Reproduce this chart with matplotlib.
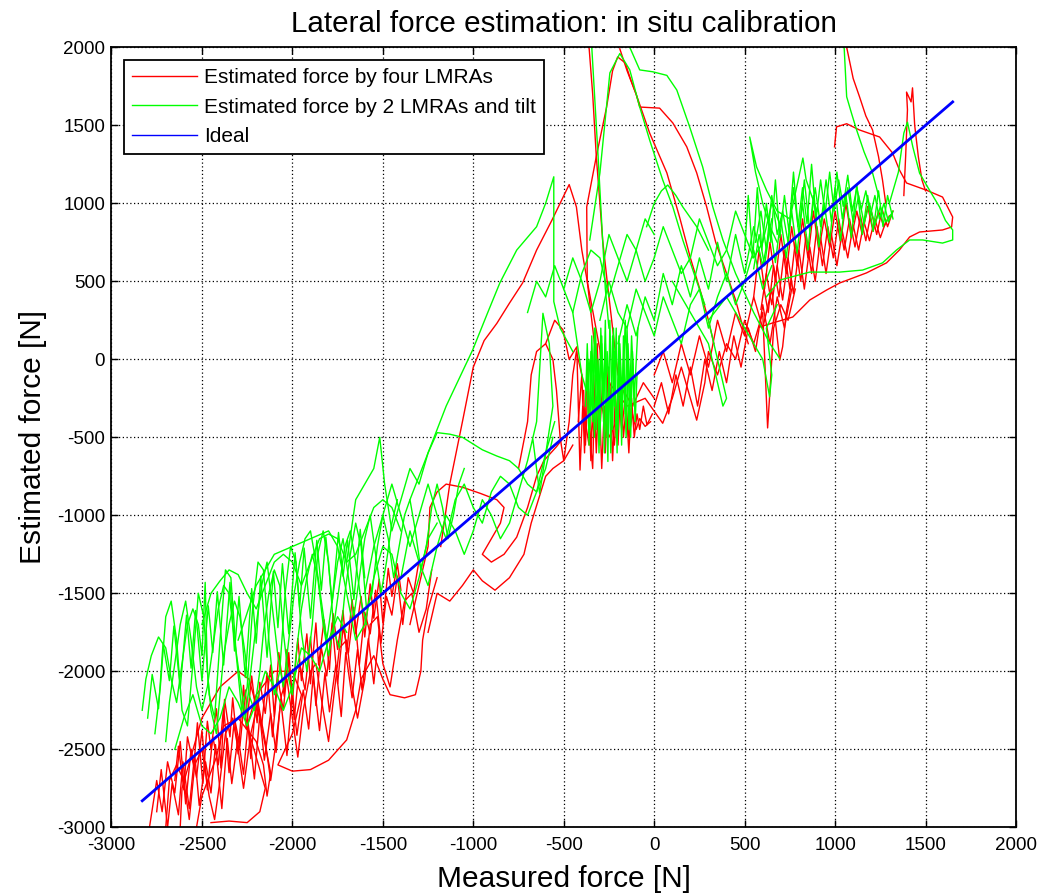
import matplotlib
matplotlib.use("Agg")
import matplotlib.pyplot as plt

plt.rcParams['font.family'] = ['Liberation Sans', 'DejaVu Sans']
plt.rcParams['axes.unicode_minus'] = False

# --- ideal line (measured = estimated) ---
ideal_x = [-2830, 1650]
ideal_y = [-2830, 1650]

# --- estimated force by four LMRAs (red), traced by hand ---
red_band1 = [(-2790, -3000), (-2750, -2700), (-2720, -2900), (-2690, -2580), (-2650, -2780), (-2620, -2450),
             (-2590, -2850), (-2560, -2500), (-2530, -2680), (-2500, -2380), (-2470, -2760), (-2440, -2420),
             (-2410, -2600), (-2380, -2230), (-2350, -2650), (-2320, -2300), (-2290, -2480), (-2260, -2120),
             (-2230, -2560), (-2200, -2180), (-2170, -2350), (-2140, -2010), (-2110, -2420), (-2080, -2050),
             (-2050, -2250), (-2020, -1880), (-1990, -2310), (-1960, -1950), (-1930, -2120), (-1900, -1780),
             (-1870, -2220), (-1840, -1850), (-1810, -2030), (-1780, -1690), (-1750, -2080), (-1720, -1720),
             (-1690, -1880), (-1660, -1590), (-1630, -1960), (-1600, -1620), (-1570, -1760), (-1540, -1480),
             (-1510, -1820), (-1480, -1520), (-1450, -1640), (-1420, -1390), (-1390, -1700), (-1360, -1400),
             (-1330, -1500), (-1300, -1290)]
red_band2 = [(-2700, -3000), (-2680, -2700), (-2640, -2600), (-2600, -2700), (-2570, -2950), (-2540, -2600),
             (-2500, -2500), (-2460, -2800), (-2430, -2950), (-2400, -2700), (-2370, -2400), (-2330, -2300),
             (-2300, -2500), (-2270, -2750), (-2230, -2400), (-2190, -2200), (-2150, -2450), (-2120, -2700),
             (-2090, -2450), (-2060, -2150), (-2030, -2050), (-2000, -2300), (-1970, -2550), (-1940, -2250),
             (-1900, -2000), (-1870, -1950), (-1830, -2250), (-1800, -2450), (-1770, -2150), (-1740, -1850),
             (-1700, -1800), (-1670, -2100), (-1640, -2300), (-1600, -2050), (-1570, -1700), (-1530, -1650),
             (-1500, -1950), (-1460, -2100), (-1420, -1800), (-1380, -1550), (-1340, -1500), (-1300, -1750),
             (-1260, -1600), (-1230, -1350)]
red_band3 = [(-2650, -2700), (-2630, -2480), (-2600, -2760), (-2580, -2420), (-2545, -2610), (-2525, -2330),
             (-2495, -2720), (-2470, -2320), (-2450, -2500), (-2420, -2240), (-2395, -2620), (-2375, -2180),
             (-2345, -2420), (-2330, -2170), (-2300, -2530), (-2270, -2090), (-2255, -2370), (-2225, -2030),
             (-2195, -2330), (-2180, -2070), (-2150, -2270), (-2120, -1960), (-2100, -2290), (-2075, -1880),
             (-2045, -2160), (-2030, -1860), (-2000, -2190), (-1970, -1790), (-1950, -2060), (-1920, -1760),
             (-1900, -2080), (-1870, -1690), (-1855, -1960), (-1825, -1670), (-1795, -1990), (-1775, -1630),
             (-1750, -1860), (-1720, -1610), (-1700, -1890), (-1670, -1540), (-1650, -1760), (-1620, -1520),
             (-1600, -1780), (-1570, -1440), (-1550, -1660), (-1520, -1410), (-1500, -1690), (-1470, -1340),
             (-1450, -1520), (-1420, -1310), (-1400, -1480)]
red_band4 = [(-2750, -2900), (-2725, -2630), (-2690, -3000), (-2665, -2720), (-2630, -2920), (-2605, -2580),
             (-2570, -2880), (-2540, -2530), (-2515, -2860), (-2480, -2580), (-2450, -2780), (-2425, -2470),
             (-2390, -2880), (-2360, -2430), (-2335, -2720), (-2300, -2420), (-2270, -2660), (-2245, -2330),
             (-2210, -2690), (-2180, -2280), (-2155, -2570), (-2120, -2270), (-2090, -2520), (-2065, -2180),
             (-2030, -2540), (-2000, -2130), (-1975, -2410), (-1940, -2120), (-1910, -2370), (-1885, -2030),
             (-1850, -2380), (-1820, -2010), (-1795, -2260), (-1760, -1960), (-1730, -2290), (-1705, -1880),
             (-1670, -2170), (-1640, -1860), (-1615, -2120), (-1580, -1790), (-1550, -2080), (-1520, -1740)]
red_loops_low = [(-2450, -2970), (-2350, -2960), (-2250, -2970), (-2180, -2900), (-2150, -2750), (-2200, -2550),
                 (-2250, -2350), (-2200, -2150), (-2100, -2000), (-2000, -2000), (-1950, -2150), (-2000, -2400),
                 (-2080, -2600), (-2000, -2640), (-1900, -2630), (-1800, -2570), (-1700, -2440), (-1650, -2250),
                 (-1620, -2050), (-1550, -1900), (-1500, -2050), (-1460, -2150), (-1380, -2170), (-1320, -2150),
                 (-1290, -2000), (-1280, -1800), (-1250, -1600), (-1200, -1400)]
red_strokes_low = [(-2530, -3000), (-2500, -2800), (-2420, -2550), (-2380, -2350), (-2300, -2300), (-2200, -2450),
                   (-2160, -2600), (-2140, -2800), (-2120, -2650), (-2180, -2300), (-2240, -2050), (-2300, -2000),
                   (-2400, -2100), (-2500, -2300), (-2610, -2750), (-2620, -3000)]
red_mid_a = [(-1350, -1700), (-1300, -1450), (-1250, -1200), (-1240, -950), (-1200, -850), (-1150, -800),
             (-1060, -820), (-960, -860), (-870, -900), (-830, -950), (-850, -1050), (-900, -1150), (-950, -1250),
             (-900, -1300), (-830, -1250), (-760, -1140), (-700, -950), (-650, -750), (-610, -650), (-540, -560),
             (-500, -500)]
red_mid_b = [(-1250, -1750), (-1200, -1500), (-1130, -1550), (-1060, -1450), (-1000, -1350), (-950, -1420),
             (-880, -1480), (-800, -1400), (-720, -1250), (-680, -1050), (-640, -900), (-600, -750), (-560, -700),
             (-500, -650), (-450, -550)]
red_mid_c = [(-750, -700), (-700, -400), (-680, -100), (-650, 50), (-600, 100), (-560, 0), (-540, -200),
             (-520, -500), (-500, -650), (-470, -400), (-450, -100), (-430, 50), (-400, -100)]
red_rise = [(-1180, -1200), (-1130, -800), (-1060, -400), (-1000, -50), (-940, 120), (-870, 230), (-800, 360),
            (-727, 490), (-650, 700), (-566, 890), (-520, 1000), (-470, 1120), (-430, 977), (-400, 700),
            (-370, 500), (-330, 250), (-300, 60), (-280, -200)]
red_peak = [(-330, 100), (-370, 500), (-373, 977), (-320, 1300), (-263, 1617), (-230, 1850), (-202, 1938),
            (-160, 1900), (-135, 1810), (-100, 1700), (-80, 1617), (30, 1610), (103, 1515), (180, 1362),
            (235, 1195), (290, 977), (340, 750), (400, 550), (450, 380), (480, 250), (520, 100)]
red_peak2 = [(-190, 1990), (-150, 1850), (-100, 1700), (-25, 1450), (70, 1195), (140, 913), (200, 650),
             (260, 420), (300, 250), (330, 100)]
red_steep = [(-360, 2000), (-340, 1700), (-320, 1300), (-300, 1000), (-285, 765), (-260, 500), (-240, 300),
             (-220, 100), (-200, -100)]
red_center = [(-420, -400), (-400, -100), (-385, -600), (-370, 0), (-355, -500), (-340, -700), (-330, -250),
              (-315, 100), (-300, -450), (-285, -150), (-270, -600), (-255, -50), (-240, -350), (-220, -550),
              (-200, -200), (-180, -450), (-160, -250), (-140, -500), (-120, -350), (-100, -450), (-80, -380),
              (-50, -430), (-20, -400)]
red_center2 = [(-600, 100), (-550, 250), (-505, 190), (-470, 0), (-428, 80), (-410, -710), (-395, -300),
               (-360, -550), (-330, -350), (-290, -300), (-250, -500), (-210, -400), (-170, -200), (-120, -300),
               (-60, -150), (0, -250)]
red_center3 = [(-390, -200), (-380, -550), (-365, -150), (-350, -650), (-335, -100), (-320, -600), (-305, -200),
               (-290, -700), (-275, -300), (-260, -500), (-245, -150), (-230, -650), (-215, -250), (-200, -550),
               (-185, -150), (-170, -500), (-155, -300), (-140, -600), (-125, -250), (-110, -500), (-95, -350),
               (-80, -450), (-60, -300), (-40, -420), (-10, -350)]
red_below = [(-250, -150), (-150, -300), (-50, -250), (47, -410), (100, -250), (150, -50), (200, -250),
             (235, -390), (280, -150), (300, 50), (350, -100), (400, 100), (450, 0), (500, 250), (550, 100),
             (600, 300), (627, -440), (640, -200), (660, 200), (700, 350), (740, 250), (780, 450)]
red_below2 = [(0, -100), (50, 50), (100, -150), (150, 100), (200, -100), (250, 150), (300, -50), (350, 250),
              (400, 50), (450, 300), (500, 150), (550, 400), (600, 200), (650, 450), (694, -5), (710, 80),
              (730, 300), (760, 500)]
red_below3 = [(0, -300), (40, -150), (80, -350), (120, -100), (160, -300), (200, -50), (240, -300), (280, 0),
              (320, -200), (360, 50), (400, -150), (440, 150), (480, -50), (520, 200), (560, 50), (600, 350),
              (640, 100), (680, 400), (720, 200), (760, 450)]
red_ur1 = [(550, 400), (580, 700), (610, 450), (640, 750), (670, 500), (700, 800), (730, 550), (760, 850),
           (790, 600), (820, 900), (850, 650), (880, 950), (910, 700), (940, 900), (970, 720), (1000, 950),
           (1030, 750), (1060, 1000), (1090, 780), (1120, 950), (1150, 800), (1180, 980), (1210, 820),
           (1240, 950), (1270, 850), (1300, 920)]
red_ur2 = [(1280, 880), (1250, 780), (1220, 900), (1190, 760), (1160, 880), (1130, 700), (1100, 860), (1070, 650),
           (1040, 820), (1010, 600), (980, 800), (950, 550), (920, 780), (890, 500), (860, 720), (830, 450),
           (800, 700), (770, 420), (740, 650), (710, 380), (680, 600), (650, 350), (620, 550), (590, 320)]
red_ur3 = [(600, 500), (630, 300), (660, 600), (690, 400), (720, 700), (750, 450), (780, 750), (810, 500),
           (840, 800), (870, 550), (900, 850), (930, 600), (960, 850), (990, 650), (1020, 900), (1050, 700),
           (1080, 900), (1110, 720), (1140, 920), (1170, 760), (1200, 950), (1230, 800), (1260, 960), (1290, 850),
           (1320, 950)]
red_right_loop = [(997, 1362), (1008, 1490), (1064, 1510), (1135, 1470), (1246, 1425), (1318, 1322), (1356, 1213),
                  (1395, 1130), (1505, 1084), (1594, 1040), (1650, 912), (1644, 848), (1594, 829), (1467, 816),
                  (1412, 784), (1356, 701), (1284, 618), (1174, 554), (1025, 489), (953, 444), (860, 380),
                  (766, 271), (655, 233), (583, 207)]
red_top_right = [(1064, 2000), (1100, 1800), (1135, 1683), (1170, 1560), (1207, 1470), (1240, 1300), (1262, 1150),
                 (1280, 1000)]
red_spikes_right = [(1380, 1050), (1390, 1300), (1400, 1600), (1395, 1713), (1420, 1650), (1428, 1740),
                    (1440, 1500), (1460, 1300), (1480, 1150), (1500, 1080)]

# --- estimated force by 2 LMRAs and tilt (green), traced by hand ---
green_left1 = [(-2830, -2250), (-2810, -2050), (-2780, -1900), (-2740, -1780), (-2700, -1850), (-2670, -2050),
               (-2640, -2200), (-2610, -1950), (-2580, -1700), (-2550, -1600), (-2520, -1700), (-2500, -1900),
               (-2482, -1430), (-2470, -2000), (-2450, -2250), (-2420, -2400), (-2400, -2150), (-2380, -1900),
               (-2350, -1700), (-2320, -1550), (-2290, -1650), (-2260, -1900), (-2240, -2150), (-2210, -2250),
               (-2180, -2000), (-2160, -1750), (-2130, -1500), (-2100, -1350), (-2070, -1450), (-2050, -1750),
               (-2020, -2050), (-2000, -2150), (-1980, -1900), (-1950, -1600), (-1920, -1400), (-1890, -1250),
               (-1860, -1400), (-1830, -1700), (-1800, -1900), (-1770, -1700), (-1740, -1450), (-1710, -1200),
               (-1680, -1100), (-1650, -1300), (-1620, -1550), (-1590, -1700)]
green_left2 = [(-2700, -2450), (-2680, -2200), (-2650, -1950), (-2620, -1700), (-2590, -1550), (-2560, -1800),
               (-2530, -2100), (-2500, -2250), (-2470, -2100), (-2440, -1850), (-2410, -1600), (-2380, -1450),
               (-2350, -1500), (-2320, -1800), (-2290, -2050), (-2260, -2300), (-2230, -2000), (-2200, -1700),
               (-2170, -1450), (-2140, -1300), (-2110, -1600), (-2080, -1900), (-2050, -2100), (-2020, -1800),
               (-1990, -1500), (-1960, -1300), (-1930, -1150), (-1900, -1100), (-1870, -1300), (-1840, -1550),
               (-1810, -1800), (-1780, -1550), (-1750, -1300), (-1720, -1150), (-1690, -1400), (-1660, -1650),
               (-1630, -1400), (-1600, -1150), (-1570, -1000), (-1540, -1250), (-1510, -1500), (-1480, -1300),
               (-1450, -1050), (-1420, -900)]
green_left3 = [(-2300, -1800), (-2200, -1450), (-2100, -1250), (-2000, -1200), (-1900, -1150), (-1800, -1100),
               (-1750, -1200), (-1700, -1500), (-1650, -1800), (-1600, -1700), (-1550, -1400), (-1500, -1200),
               (-1450, -1250), (-1400, -1500), (-1350, -1600), (-1300, -1400), (-1250, -1150), (-1200, -1050)]
green_left4 = [(-2650, -2500), (-2600, -2300), (-2550, -2150), (-2500, -2350), (-2450, -2400), (-2400, -2300),
               (-2350, -2100), (-2300, -2200), (-2250, -2350), (-2200, -2200), (-2150, -2000), (-2100, -2100),
               (-2050, -2250), (-2000, -2100), (-1950, -1850), (-1900, -1900), (-1850, -2000), (-1800, -1800),
               (-1750, -1650), (-1700, -1750)]
green_left5 = [(-2800, -2300), (-2775, -2020), (-2740, -2240), (-2715, -1820), (-2680, -2060), (-2655, -1710),
               (-2620, -2110), (-2585, -1640), (-2560, -1980), (-2535, -1610), (-2500, -2060), (-2465, -1580),
               (-2440, -1880), (-2415, -1490), (-2380, -1960), (-2345, -1430), (-2320, -1870), (-2295, -1520),
               (-2260, -2040), (-2225, -1470), (-2200, -1820), (-2175, -1390), (-2140, -1910), (-2105, -1360),
               (-2080, -1720), (-2055, -1310), (-2020, -1760), (-1985, -1240), (-1960, -1590), (-1935, -1210),
               (-1900, -1660), (-1865, -1160), (-1840, -1480), (-1815, -1140), (-1780, -1560), (-1745, -1110),
               (-1720, -1390), (-1695, -1160), (-1660, -1540), (-1625, -1090), (-1600, -1400)]
green_left6 = [(-2760, -2400), (-2730, -2100), (-2700, -1650), (-2670, -1550), (-2640, -1800), (-2610, -2250),
               (-2580, -2350), (-2550, -1950), (-2520, -1500), (-2490, -1650), (-2460, -2150), (-2430, -2300),
               (-2400, -1800), (-2370, -1350), (-2340, -1400), (-2310, -1900), (-2280, -2250), (-2250, -2100),
               (-2220, -1600), (-2190, -1300), (-2160, -1350), (-2130, -1800), (-2100, -2150), (-2070, -2000),
               (-2040, -1500), (-2010, -1200), (-1980, -1300), (-1950, -1750), (-1920, -2000), (-1890, -1700),
               (-1860, -1250), (-1830, -1100), (-1800, -1300), (-1770, -1750), (-1740, -1850), (-1710, -1500),
               (-1680, -1250), (-1650, -1050), (-1620, -1200), (-1590, -1600), (-1560, -1500), (-1530, -1200),
               (-1500, -1000), (-1470, -1150), (-1440, -1400), (-1410, -1200), (-1380, -1000), (-1350, -900),
               (-1320, -1100), (-1290, -1350), (-1260, -1200), (-1230, -950), (-1200, -800), (-1170, -950),
               (-1140, -1150), (-1110, -1000), (-1080, -800), (-1050, -700)]
green_left7 = [(-2500, -1700), (-2450, -1500), (-2400, -1420), (-2350, -1350), (-2300, -1380), (-2250, -1500),
               (-2200, -1600), (-2150, -1450), (-2100, -1300), (-2050, -1250), (-2000, -1300), (-1950, -1450),
               (-1900, -1300), (-1850, -1150), (-1800, -1120), (-1750, -1150), (-1700, -1300), (-1650, -1250),
               (-1600, -1100), (-1550, -950), (-1500, -900), (-1450, -950), (-1400, -1100)]
green_leftmid1 = [(-1700, -1300), (-1650, -900), (-1600, -800), (-1550, -700), (-1517, -500), (-1490, -800),
                  (-1450, -1100), (-1400, -900), (-1350, -700), (-1300, -800), (-1250, -600), (-1200, -470),
                  (-1130, -480), (-1060, -500), (-950, -580), (-870, -620), (-800, -650), (-750, -700),
                  (-700, -800), (-650, -850), (-600, -700), (-560, -500)]
green_leftmid2 = [(-1600, -1500), (-1550, -1200), (-1500, -1000), (-1450, -800), (-1400, -1000), (-1350, -1200),
                  (-1300, -1000), (-1250, -800), (-1200, -1000), (-1150, -1150), (-1100, -900), (-1050, -800),
                  (-1000, -950), (-950, -1050), (-900, -850), (-850, -750), (-800, -800), (-750, -950),
                  (-700, -1000), (-650, -850), (-600, -600), (-550, -400)]
green_leftmid3 = [(-1400, -1400), (-1350, -1100), (-1300, -1300), (-1250, -1450), (-1200, -1200), (-1150, -1000),
                  (-1100, -1100), (-1050, -1250), (-1000, -1100), (-950, -900), (-900, -1000), (-850, -1150),
                  (-800, -1050), (-750, -850), (-700, -650), (-650, -400), (-615, 295), (-580, 100), (-560, -300),
                  (-633, -860), (-670, -518)]
green_rise = [(-1350, -900), (-1250, -600), (-1150, -300), (-1003, 61), (-920, 300), (-853, 490), (-760, 700),
              (-650, 850), (-600, 1000), (-555, 1170), (-555, 370), (-520, 200), (-450, 50)]
green_peak = [(-356, 765), (-300, 1195), (-245, 1836), (-190, 1960), (-135, 1855), (-80, 1617), (-25, 1405),
              (47, 1150), (103, 977), (158, 765), (220, 550), (280, 350)]
green_steep = [(-345, 2000), (-330, 1700), (-310, 1300), (-285, 765), (-270, 450), (-250, 200)]
green_peak3 = [(-135, 2000), (-80, 1855), (-8, 1843), (70, 1820), (125, 1726), (196, 1490), (268, 1233),
               (324, 977), (380, 765), (450, 550), (550, 300), (640, 100), (694, 5)]
green_arc = [(-42, 850), (0, 1000), (40, 1080), (75, 1117), (120, 1050), (158, 977), (235, 850), (300, 700)]
green_center1 = [(-380, -300), (-370, 100), (-355, -450), (-345, 150), (-330, -500), (-320, 50), (-305, -600),
                 (-295, 200), (-280, -400), (-270, 100), (-256, -655), (-245, 250), (-230, -450), (-220, 50),
                 (-205, -600), (-195, 150), (-180, -350), (-170, 0), (-155, -500), (-145, 100), (-130, -300),
                 (-120, 50), (-105, -400), (-95, -100)]
green_center2 = [(-90, 200), (-110, -250), (-125, 150), (-140, -450), (-160, 250), (-175, -300), (-190, 100),
                 (-210, -500), (-225, 200), (-240, -350), (-260, 50), (-275, -600), (-290, 150), (-310, -300),
                 (-325, 200), (-340, -400), (-360, 0), (-375, -200), (-400, -100), (-450, 300), (-500, 450)]
green_center3 = [(-370, -150), (-360, -550), (-350, 50), (-340, -350), (-330, 200), (-320, -450), (-310, 0),
                 (-300, -550), (-290, 100), (-280, -250), (-270, 250), (-260, -500), (-250, -50), (-240, -600),
                 (-230, 150), (-220, -300), (-210, 200), (-200, -450), (-190, -50), (-180, -550), (-170, 150),
                 (-160, -350), (-150, 200), (-140, -200), (-130, -500), (-120, 0), (-110, -300)]
green_mid1 = [(-450, 300), (-400, 550), (-350, 700), (-300, 650), (-250, 400), (-200, 600), (-150, 800),
              (-100, 700), (-50, 500), (0, 650), (50, 850), (100, 700), (150, 550), (200, 650), (250, 900),
              (300, 750), (350, 600), (400, 700), (450, 950), (500, 800), (550, 650), (600, 750), (650, 1000),
              (700, 850)]
green_mid2 = [(-300, 250), (-250, 500), (-200, 300), (-150, 200), (-100, 450), (-50, 300), (0, 150), (50, 400),
              (100, 250), (150, 100), (200, 350), (250, 450), (300, 200), (350, 400), (400, 550), (450, 350),
              (500, 500), (550, 700), (600, 450), (650, 600)]
green_mid3 = [(100, 500), (200, 300), (300, 100), (350, -150), (380, -300), (400, -250), (350, 0), (300, 250),
              (400, 400), (500, 200), (600, 0), (638, -240), (650, -100), (620, 200), (680, 350)]
green_mid4 = [(-200, 100), (-150, 350), (-100, 150), (-50, 400), (0, 250), (50, 550), (100, 350), (150, 600),
              (200, 400), (250, 650), (300, 450), (350, 750), (400, 500), (450, 800), (500, 550), (550, 850),
              (600, 600), (650, 900)]
green_mid5 = [(-700, 300), (-650, 500), (-600, 400), (-550, 600), (-500, 450), (-450, 650), (-400, 500),
              (-350, 300), (-300, 500), (-250, 800), (-200, 650), (-150, 500), (-100, 700), (-50, 900), (0, 800)]
green_ur1 = [(500, 700), (520, 1050), (545, 650), (570, 1100), (595, 700), (620, 1000), (645, 750), (670, 1150),
             (695, 780), (720, 1050), (745, 820), (770, 1200), (795, 850), (820, 1100), (845, 870), (870, 1250),
             (895, 900), (920, 1150), (945, 930), (970, 1200), (995, 950), (1020, 1150), (1045, 980), (1070, 1180),
             (1095, 950), (1120, 1100), (1145, 960), (1170, 1080), (1195, 920), (1220, 1050), (1245, 900),
             (1270, 1000), (1295, 880), (1320, 950)]
green_ur2 = [(1320, 900), (1290, 1050), (1265, 850), (1240, 1080), (1210, 820), (1180, 1050), (1150, 800),
             (1120, 1120), (1090, 780), (1060, 1050), (1030, 760), (1000, 1100), (970, 750), (940, 1000),
             (910, 720), (880, 1050), (850, 700), (820, 1000), (790, 680), (760, 950), (730, 650), (700, 900),
             (670, 620), (640, 850), (610, 600), (580, 800), (550, 580)]
green_ur3 = [(680, 750), (640, 850), (600, 1000), (560, 1200), (528, 1425), (566, 1233), (621, 1084), (680, 950),
             (750, 900), (822, 1290), (840, 1150), (870, 1050), (900, 950)]
green_ur4 = [(560, 750), (590, 950), (620, 700), (650, 1050), (680, 800), (710, 950), (740, 750), (770, 1100),
             (800, 800), (830, 1150), (860, 820), (890, 1100), (920, 850), (950, 1150), (980, 880), (1010, 1200),
             (1040, 900), (1070, 1100), (1100, 880), (1130, 1050), (1160, 870), (1190, 1000), (1220, 860),
             (1250, 980), (1280, 880), (1310, 930)]
green_right_loop = [(1300, 1000), (1350, 1200), (1380, 1450), (1400, 1520), (1430, 1360), (1467, 1193),
                    (1522, 1084), (1577, 977), (1610, 890), (1650, 829), (1650, 765), (1594, 745), (1484, 765),
                    (1412, 765), (1340, 701), (1262, 618), (1152, 572), (1025, 559), (860, 559), (694, 508),
                    (620, 400)]
green_top_right = [(1050, 2000), (1064, 1683), (1090, 1580), (1119, 1470), (1160, 1330), (1207, 1195),
                   (1240, 1050)]

red_traces = [red_band1, red_band2, red_band3, red_band4, red_loops_low, red_strokes_low, red_mid_a, red_mid_b,
              red_mid_c, red_rise, red_peak, red_peak2, red_steep, red_center, red_center2, red_center3,
              red_below, red_below2, red_below3, red_ur1, red_ur2, red_ur3, red_right_loop, red_top_right,
              red_spikes_right]
green_traces = [green_left1, green_left2, green_left3, green_left4, green_left5, green_left6, green_left7,
                green_leftmid1, green_leftmid2, green_leftmid3, green_rise, green_peak, green_steep, green_peak3,
                green_arc, green_center1, green_center2, green_center3, green_mid1, green_mid2, green_mid3,
                green_mid4, green_mid5, green_ur1, green_ur2, green_ur3, green_ur4, green_right_loop,
                green_top_right]

fig = plt.figure(figsize=(10.38, 8.94), dpi=100)
ax = fig.add_axes([0.1074, 0.0746, 0.8714, 0.8725])

for i, tr in enumerate(red_traces):
    xs, ys = zip(*tr)
    ax.plot(xs, ys, color="#ff0000", lw=1.0,
            label="Estimated force by four LMRAs" if i == 0 else None)
for i, tr in enumerate(green_traces):
    xs, ys = zip(*tr)
    ax.plot(xs, ys, color="#00ff00", lw=1.0,
            label="Estimated force by 2 LMRAs and tilt" if i == 0 else None)
ax.plot(ideal_x, ideal_y, color="#0000ff", lw=2.0, label="Ideal")

ax.set_xlim(-3000, 2000)
ax.set_ylim(-3000, 2000)
ax.set_xticks(range(-3000, 2001, 500))
ax.set_yticks(range(-3000, 2001, 500))
ax.grid(True, color="black", linestyle=(0, (1, 2)), linewidth=0.9)
ax.tick_params(direction="in", top=True, right=True, length=5, width=1, labelsize=13.5)
ax.tick_params(axis="x", pad=7)
ax.tick_params(axis="y", pad=4.5)
for s in ax.spines.values():
    s.set_linewidth(1.3)

ax.set_title("Lateral force estimation: in situ calibration", fontsize=21.3, pad=11)
ax.set_xlabel("Measured force [N]", fontsize=21.5, labelpad=8)
ax.set_ylabel("Estimated force [N]", fontsize=21.5, labelpad=7)

leg = ax.legend(loc="upper left", fontsize=15, frameon=True, fancybox=False, framealpha=1,
                handlelength=3.1, handletextpad=0.35, labelspacing=0.5, borderpad=0.4,
                borderaxespad=0.6)
leg.get_frame().set_edgecolor("black")
leg.get_frame().set_linewidth(1.3)
for ln in leg.get_lines():
    ln.set_linewidth(1.0)

fig.savefig("out.png", dpi=100)
